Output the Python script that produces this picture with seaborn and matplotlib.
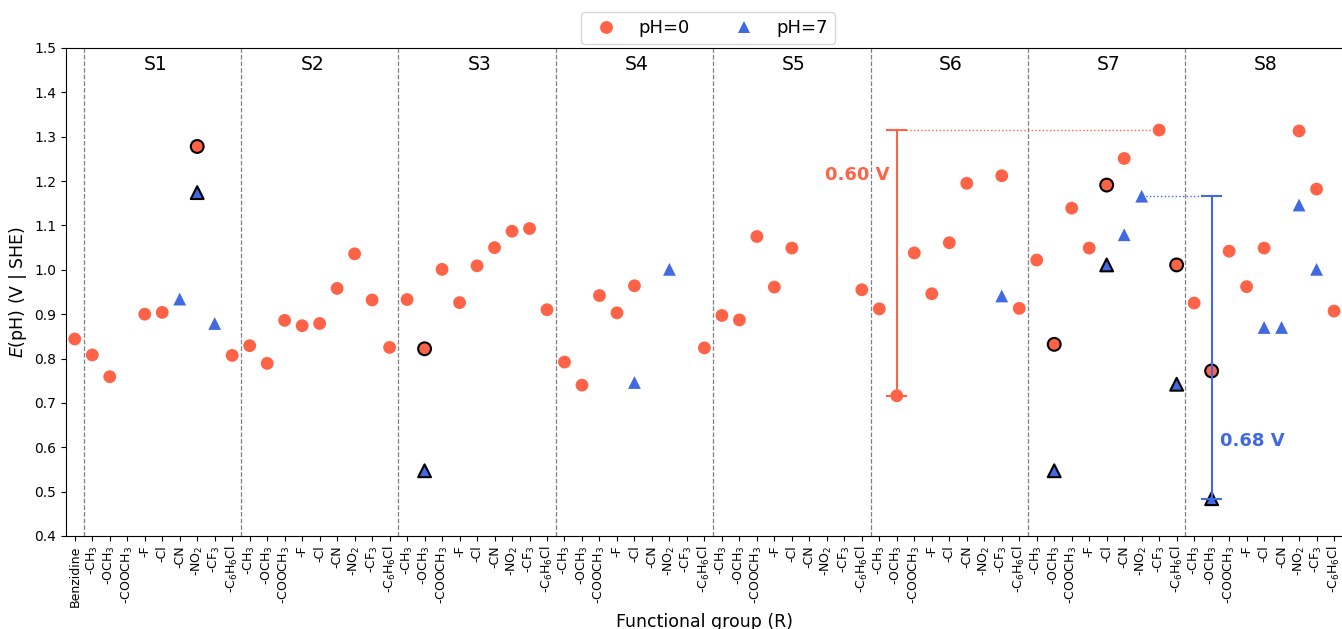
import numpy as np
import pandas as pd
import matplotlib
matplotlib.use("Agg")
import matplotlib.pyplot as plt
import seaborn as sns

nan = np.nan

# Parent molecule and the eight substitution sites
parent = "Benzidine"
sections = ["S1", "S2", "S3", "S4", "S5", "S6", "S7", "S8"]
substituents = ["-CH$_3$", "-OCH$_3$", "-COOCH$_3$", "-F", "-Cl", "-CN",
                "-NO$_2$", "-CF$_3$", "-C$_6$H$_6$Cl"]

# Redox potentials E(pH) in V vs SHE (nan = not computed)
e_ph0 = [0.844,
         0.808, 0.759, nan, 0.900, 0.904, nan, 1.278, nan, 0.807,      # S1
         0.829, 0.789, 0.886, 0.874, 0.879, 0.958, 1.036, 0.932, 0.825,  # S2
         0.933, 0.822, 1.001, 0.926, 1.009, 1.050, 1.087, 1.093, 0.910,  # S3
         0.792, 0.740, 0.942, 0.903, 0.964, nan, nan, nan, 0.824,        # S4
         0.897, 0.887, 1.075, 0.961, 1.049, nan, nan, nan, 0.955,        # S5
         0.912, 0.716, 1.038, 0.946, 1.061, 1.195, nan, 1.212, 0.913,    # S6
         1.022, 0.832, 1.139, 1.049, 1.191, 1.251, nan, 1.315, 1.011,    # S7
         0.925, 0.772, 1.042, 0.962, 1.049, nan, 1.313, 1.182, 0.907]    # S8

e_ph7 = [nan,
         nan, nan, nan, nan, nan, 0.934, 1.174, 0.879, nan,              # S1
         nan, nan, nan, nan, nan, nan, nan, nan, nan,                    # S2
         nan, 0.547, nan, nan, nan, nan, nan, nan, nan,                  # S3
         nan, nan, nan, nan, 0.746, nan, 1.001, nan, nan,                # S4
         nan, nan, nan, nan, nan, nan, nan, nan, nan,                    # S5
         nan, nan, nan, nan, nan, nan, nan, 0.941, nan,                  # S6
         nan, 0.547, nan, nan, 1.011, 1.079, 1.166, nan, 0.742,          # S7
         nan, 0.484, nan, nan, 0.870, 0.870, 1.146, 1.001, nan]          # S8

# Molecules outlined in black: (site, substituent position within the site)
highlighted = [("S1", 6), ("S3", 1), ("S7", 1), ("S7", 4), ("S7", 8), ("S8", 1)]

# Sites whose spread is annotated
range_sections = ["S6", "S7", "S8"]

tick_labels = [parent] + substituents * len(sections)
n = len(tick_labels)
xpos = np.arange(n)
n_sub = len(substituents)


def site_index(sec, k):
    return 1 + sections.index(sec) * n_sub + k


df = pd.DataFrame({
    "x": np.concatenate([xpos, xpos]),
    "E": np.array(e_ph0 + e_ph7, dtype=float),
    "pH": ["pH=0"] * n + ["pH=7"] * n,
}).dropna()

palette = {"pH=0": "tomato", "pH=7": "royalblue"}
markers = {"pH=0": "o", "pH=7": "^"}

fig = plt.figure(figsize=(13.42, 6.29), dpi=100)
ax = fig.add_axes([0.0492, 0.1479, 0.9514, 0.7758])

sns.scatterplot(data=df, x="x", y="E", hue="pH", style="pH",
                palette=palette, markers=markers, s=85, linewidth=0, ax=ax)

hl_idx = [site_index(s, k) for s, k in highlighted]
sns.scatterplot(data=df[df["x"].isin(hl_idx)], x="x", y="E", hue="pH",
                style="pH", palette=palette, markers=markers, s=85,
                edgecolor="black", linewidth=1.5, legend=False, ax=ax)

# Site separators and site names
for i in range(len(sections)):
    ax.axvline(i * n_sub + 0.5, color="gray", ls="--", lw=0.9)
label_shift = [-0.4, -0.4, 0.15, 0.1, 0.1, 0.1, 0.1, 0.1]
for i, sec in enumerate(sections):
    centre = 1 + i * n_sub + (n_sub - 1) / 2 + label_shift[i]
    ax.text(centre, 1.462, sec, ha="center", va="center", fontsize=13.5)

# Spread of E over the annotated sites for each pH
first = site_index(range_sections[0], 0)
sub = df[df["x"] >= first]
cap = 0.55
for ph, side in [("pH=0", "left"), ("pH=7", "right")]:
    col = palette[ph]
    s = sub[sub["pH"] == ph]
    lo_row = s.loc[s["E"].idxmin()]
    hi_row = s.loc[s["E"].idxmax()]
    x0, lo, hi = lo_row["x"], lo_row["E"], hi_row["E"]
    ax.plot([x0, x0], [lo, hi], color=col, lw=1.5)
    ax.plot([x0 - cap, x0 + cap], [hi, hi], color=col, lw=1.5)
    ax.plot([x0 - cap, x0 + cap], [lo, lo], color=col, lw=1.5)
    if hi_row["x"] > x0:
        ax.plot([x0 + cap, hi_row["x"]], [hi, hi], color=col, ls=":", lw=1)
    else:
        ax.plot([hi_row["x"], x0 - cap], [hi, hi], color=col, ls=":", lw=1)
    txt = f"{hi - lo:.2f} V"
    if side == "left":
        ax.text(x0 - 0.4, 1.213, txt, color=col, ha="right", va="center",
                fontsize=13, fontweight="bold")
    else:
        ax.text(x0 + 0.5, 0.615, txt, color=col, ha="left", va="center",
                fontsize=13, fontweight="bold")

ax.set_xlim(-0.5, n - 0.5)
ax.set_ylim(0.4, 1.5)
ax.set_yticks(np.round(np.arange(0.4, 1.51, 0.1), 1))
ax.tick_params(axis="y", labelsize=10)
ax.set_xticks(xpos)
ax.set_xticklabels(tick_labels, rotation=90, fontsize=9)
ax.set_xlabel("Functional group (R)", fontsize=12.5)
ax.set_ylabel("$E$(pH) (V | SHE)", fontsize=12.5)

handles, labels = ax.get_legend_handles_labels()
ax.legend(handles, labels, loc="lower center", bbox_to_anchor=(0.503, 1.0),
          ncol=2, fontsize=13, borderaxespad=0.2)

fig.savefig("out.png", dpi=100)
